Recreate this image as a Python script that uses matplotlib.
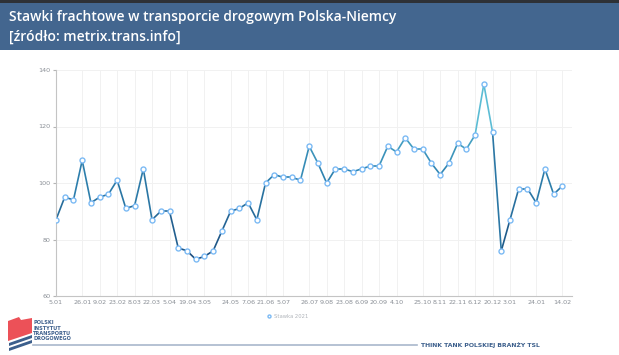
import numpy as np
import matplotlib
matplotlib.use('Agg')
import matplotlib.pyplot as plt
from matplotlib.collections import LineCollection
from matplotlib.colors import LinearSegmentedColormap, Normalize
from matplotlib.patches import Rectangle, Polygon

# weekly freight rates PL-DE
rates = [87, 95, 94, 108, 93, 95, 96, 101, 91, 92, 105, 87, 90, 90, 77, 76, 73, 74, 76,
         83, 90, 91, 93, 87, 100, 103, 102, 102, 101, 113, 107, 100, 105, 105, 104, 105,
         106, 106, 113, 111, 116, 112, 112, 107, 103, 107, 114, 112, 117, 135, 118, 76,
         87, 98, 98, 93, 105, 96, 99]
tick_idx = [0, 3, 5, 7, 9, 11, 13, 15, 17, 20, 22, 24, 26, 29, 31, 33, 35, 37, 39,
            42, 44, 46, 48, 50, 52, 55, 58]
tick_labels = ['5.01', '26.01', '9.02', '23.02', '8.03', '22.03', '5.04', '19.04', '3.05',
               '24.05', '7.06', '21.06', '5.07', '26.07', '9.08', '23.08', '6.09', '20.09',
               '4.10', '25.10', '8.11', '22.11', '6.12', '20.12', '3.01', '24.01', '14.02']
y_ticks = [60, 80, 100, 120, 140]

W, H = 619, 355
fig = plt.figure(figsize=(W / 100, H / 100), dpi=100)
fig.patch.set_facecolor('white')

# ---- background / decoration in pixel coords ----
bg = fig.add_axes([0, 0, 1, 1])
bg.set_xlim(0, W); bg.set_ylim(H, 0); bg.axis('off')
bg.add_patch(Rectangle((0, 0), W, 3, facecolor='#2e3136', edgecolor='none'))
bg.add_patch(Rectangle((0, 3), W, 47, facecolor='#43668f', edgecolor='none'))
bg.text(9, 17, 'Stawki frachtowe w transporcie drogowym Polska-Niemcy', color='white',
        fontsize=10, fontweight='semibold', family='Open Sans', va='center')
bg.text(9, 37, '[źródło: metrix.trans.info]', color='white',
        fontsize=10, fontweight='semibold', family='Open Sans', va='center')

# logo
bg.add_patch(Polygon([(8, 321), (19, 317), (21, 320), (32, 318), (32, 333), (8, 341)],
                     facecolor='#ec5158', edgecolor='none'))
bg.add_patch(Polygon([(9, 343), (32, 335), (32, 338), (9, 346)], facecolor='#3c5f8c', edgecolor='none'))
bg.add_patch(Polygon([(9, 348), (32, 340), (32, 343), (9, 351)], facecolor='#3c5f8c', edgecolor='none'))
for i, t in enumerate(['POLSKI', 'INSTYTUT', 'TRANSPORTU', 'DROGOWEGO']):
    bg.text(33, 323 + i * 5.3, t, color='#3c5f8c', fontsize=3.6, fontweight='bold', va='center')
bg.plot([33, 417], [345, 345], color='#a9b8cc', lw=1.2)
bg.text(421, 345, 'THINK TANK POLSKIEJ BRANŻY TSL', color='#3c5f8c', fontsize=4.4,
        fontweight='bold', va='center')

# ---- chart ----
ax = fig.add_axes([56 / W, 1 - 296 / H, (572 - 56) / W, (296 - 70) / H])
x = np.arange(len(rates))
y = np.array(rates, dtype=float)

pts = np.column_stack([x, y]).reshape(-1, 1, 2)
segs = np.concatenate([pts[:-1], pts[1:]], axis=1)
cmap = LinearSegmentedColormap.from_list('rate', ['#1a4b7c', '#2f83b0', '#6cd2e2'])
lc = LineCollection(segs, cmap=cmap, norm=Normalize(72, 135), linewidth=1.2, zorder=2)
lc.set_array((y[:-1] + y[1:]) / 2)
ax.add_collection(lc)
ax.plot(x, y, linestyle='none', marker='o', markersize=3.6, markerfacecolor='white',
        markeredgecolor='#7cbaf4', markeredgewidth=1.0, zorder=3, label='Stawka 2021')

ax.set_xlim(0, 59.1)
ax.set_ylim(60, 140)
ax.set_xticks(tick_idx)
ax.set_xticklabels(tick_labels)
ax.set_yticks(y_ticks)
ax.tick_params(axis='x', length=0, labelsize=4.6, labelcolor='#8a8f96', pad=3)
ax.tick_params(axis='y', length=2, color='#b5b5b5', labelsize=4.6, labelcolor='#8a8f96', pad=2)
ax.grid(True, color='#f1f1f1', lw=0.7)
ax.set_axisbelow(True)
for s in ['top', 'right']:
    ax.spines[s].set_visible(False)
for s in ['left', 'bottom']:
    ax.spines[s].set_color('#c4c4c4')
    ax.spines[s].set_linewidth(0.8)

leg = ax.legend(loc='upper center', bbox_to_anchor=(0.45, -0.06), frameon=False,
                fontsize=3.8, handlelength=0.6, handletextpad=0.6, markerscale=0.6)
for t in leg.get_texts():
    t.set_color('#b0b4ba')

fig.savefig('out.png', dpi=100)
